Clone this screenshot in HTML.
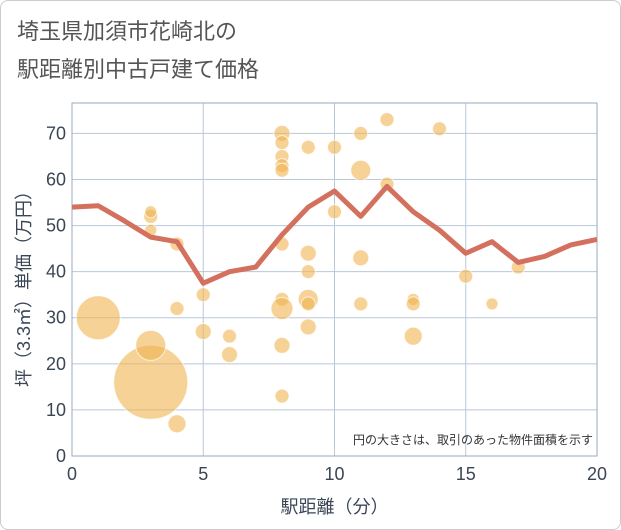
<!DOCTYPE html>
<html><head><meta charset="utf-8"><style>
body{margin:0;background:#fff;}
#wrap{position:relative;width:619px;height:528px;border:1px solid #ccc;border-radius:8px;background:#fff;overflow:hidden;font-family:"Liberation Sans","Noto Sans CJK JP",sans-serif;}
.title{position:absolute;left:16px;top:12px;font-size:22px;line-height:38px;color:#555;}
svg text{font-family:"Liberation Sans","Noto Sans CJK JP",sans-serif;}
</style></head><body>
<div id="wrap">
<div class="title">埼玉県加須市花崎北の<br>駅距離別中古戸建て価格</div>
<svg id="chart" width="621" height="530" style="position:absolute;left:-1px;top:-1px"></svg>
</div>
<script>
const lineX=[0,1,2,3,4,5,6,7,8,9,10,11,12,13,14,15,16,17,18,19,20];
const lineY=[54,54.3,51,47.5,46.5,37.5,40,41,48,54,57.5,52,58.5,53,49,44,46.5,42,43.3,45.8,47];
const bubX=[1,3,3,3,3,3,4,4,4,5,5,6,6,8,8,8,8,8,8,8,8,8,8,9,9,9,9,9,9,10,10,11,11,11,11,12,12,13,13,13,14,15,16,17];
const bubY=[30,16,24,52,53,49,46,32,7,35,27,26,22,70,68,65,63,62,46,34,32,24,13,67,44,40,34,33,28,67,53,70,62,43,33,73,59,34,33,26,71,39,33,41];
const bubR=[22,37,15,7,6,6,7,7,9,7,8,7,8,8,7,7,7,7,7,7,11,8,7,7,8,7,10,7,8,7,7,7,10,8,7,7,7,6,7,9,7,7,6,7];
const xTicks=[0,5,10,15,20];
const yTicks=[0,10,20,30,40,50,60,70];
const L=72,R=597,T=103,B=456;
const sx=v=>L+(R-L)*v/20;
const sy=v=>B-(B-T)*v/76.6;
const svg=document.getElementById('chart');
const NS='http://www.w3.org/2000/svg';
function mk(tag,attrs,parent){const e=document.createElementNS(NS,tag);for(const k in attrs)e.setAttribute(k,attrs[k]);(parent||svg).appendChild(e);return e;}
const grid=mk('g',{});


yTicks.forEach(v=>{
  const l=mk('line',{x1:L,x2:R,y1:sy(v),y2:sy(v),stroke:'#b8c8d8','stroke-width':1},grid);
  
  
  const t=mk('text',{x:L-6,y:sy(v)+6,'text-anchor':'end','font-size':18,fill:'#3a4656'});
  t.textContent=v;
  
  
});
xTicks.forEach(v=>{
  const l=mk('line',{x1:sx(v),x2:sx(v),y1:T,y2:B,stroke:'#b8c8d8','stroke-width':1},grid);
  
  
  const t=mk('text',{x:sx(v),y:B+24,'text-anchor':'middle','font-size':18,fill:'#3a4656'});
  t.textContent=v;
  
  
});
const frame=mk('rect',{x:L,y:T,width:R-L,height:B-T,fill:'none',stroke:'#9aaabb','stroke-width':1});


bubX.forEach((x,i)=>{
  const c=mk('circle',{cx:sx(x),cy:sy(bubY[i]),r:bubR[i],fill:'rgba(240,180,80,0.6)',stroke:'rgba(255,255,255,0.7)','stroke-width':1});
  
  
});
const p=mk('polyline',{points:lineX.map((x,i)=>sx(x)+','+sy(lineY[i])).join(' '),fill:'none',stroke:'#d4705e','stroke-width':5,'stroke-linejoin':'round'});


const note=mk('text',{x:R-4,y:B-12,'text-anchor':'end','font-size':12,fill:'#333'});
note.textContent='円の大きさは、取引のあった物件面積を示す';


const xt=mk('text',{x:(L+R)/2,y:513,'text-anchor':'middle','font-size':18,fill:'#3a4656'});
xt.textContent='駅距離（分）';


const yt=mk('text',{x:0,y:0,'text-anchor':'middle','font-size':18,fill:'#3a4656',transform:'translate(30,'+((T+B)/2+5)+') rotate(-90)'});
yt.textContent='坪（3.3㎡）単価（万円）';


</script>
</body></html>
